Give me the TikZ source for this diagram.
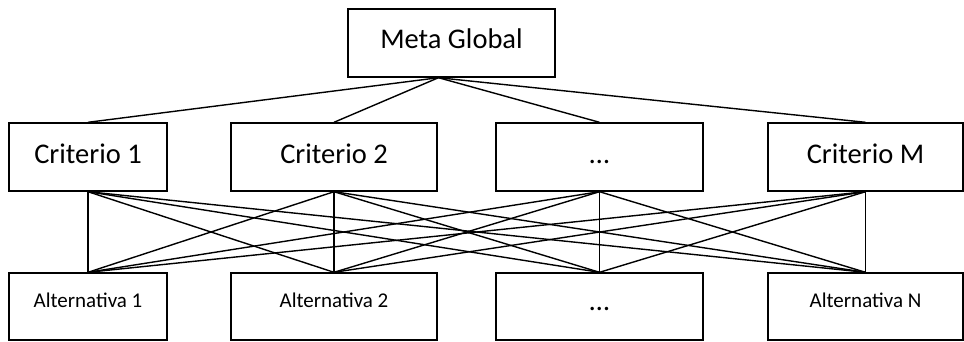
\documentclass[tikz,border=0pt]{standalone}
\usepackage{fontspec}
\setmainfont{Carlito}
\usetikzlibrary{calc}
\tikzset{
	every path/.style={line width=1.4pt},
	box/.style={draw,line width=1.4pt,inner sep=0pt,minimum height=68pt},
	bigbox/.style={box,font=\fontsize{28.5}{34}\selectfont,text height=20pt,text depth=7pt},
	altbox/.style={box,minimum height=67pt,font=\fontsize{21}{25}\selectfont,text height=14pt,text depth=13pt},
}

\begin{document}
\begin{tikzpicture}[x=1pt,y=-1pt]
			\useasboundingbox (0,0) rectangle (964,341);
			
			%goal.....................
			\node [bigbox,minimum width=207pt,text height=20pt,text depth=10pt] (meta) at (451.5,43) {Meta Global};
			\coordinate (hub) at ([xshift=-13pt]meta.south);
			
			%criteria......................
			\node [bigbox,minimum width=158pt] (c1) at (88,157) {Criterio 1};
			\node [bigbox,minimum width=206pt] (c2) at (334,157) {Criterio 2};
			\node [bigbox,minimum width=207pt] (c3) at (599.5,157) {…};
			\node [bigbox,minimum width=195pt] (cM) at (865.5,157) {Criterio M};
			
			%alternatives...................
			\node [altbox,minimum width=158pt] (a1) at (88,306.5) {Alternativa 1};
			\node [altbox,minimum width=206pt] (a2) at (334,306.5) {Alternativa 2};
			\node [bigbox,minimum height=67pt,minimum width=207pt,text height=20pt,text depth=13pt] (a3) at (599.5,306.5) {…};
			\node [altbox,minimum width=195pt] (aN) at (865.5,306.5) {Alternativa N};
			
			% goal to criteria...................
			\foreach \c in {c1,c2,c3,cM}
				\draw (hub) -- (\c.north);
			
			% criteria to alternatives...................
			\foreach \c in {c1,c2,c3,cM}
				\foreach \a in {a1,a2,a3,aN}
					\draw (\c.south) -- (\a.north);
			
		\end{tikzpicture}
\end{document}
